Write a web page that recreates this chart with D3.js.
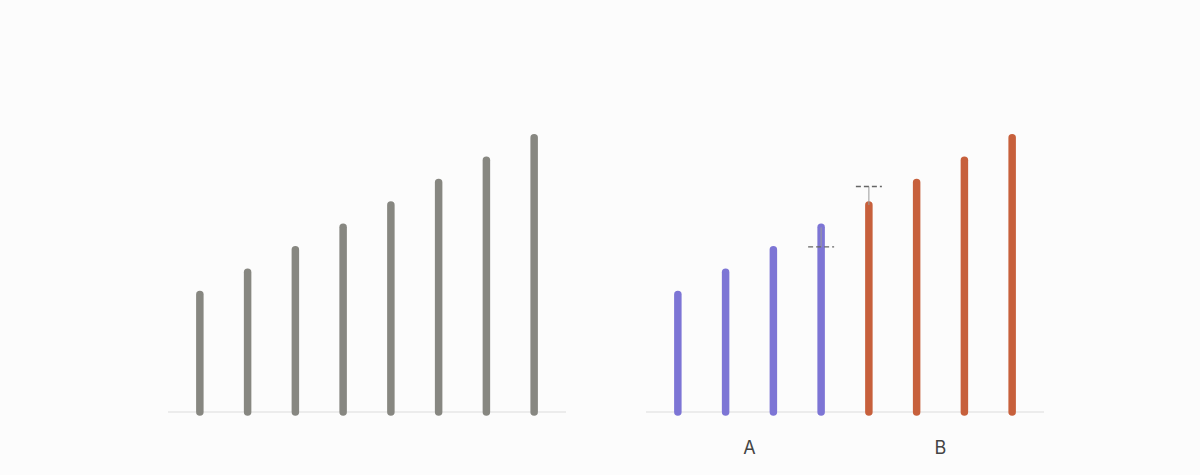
<!DOCTYPE html>
<html>
<head>
<meta charset="utf-8">
<script src="https://cdn.jsdelivr.net/npm/d3@7"></script>
<style>
  body { margin: 0; background: #fcfcfc; }
  svg { display: block; }
</style>
</head>
<body>
<svg id="chart" width="1200" height="475"></svg>
<script>
// values
const items = ["1", "2", "3", "4", "5", "6", "7", "8"];
const values = [21, 25, 29, 33, 37, 41, 45, 49];
const groupOf = ["A", "A", "A", "A", "B", "B", "B", "B"];
const groups = ["A", "B"];
const groupMarks = [29.5, 40.3];   // dashed marker levels
const markAt = ["4", "5"];         // bar each marker sits on

const colors = { A: "#7d75d5", B: "#c7603c" };
const grey = "#878781";

const svg = d3.select("#chart");
const baseY = 412;

const y = d3.scaleLinear()
    .domain([0, 50])
    .range([baseY, baseY - 279.75]);

function panel(x0, colored) {
    const g = svg.append("g").attr("transform", `translate(${x0},0)`);

    const x = d3.scalePoint()
        .domain(items)
        .range([0, 398])
        .padding(0.667);

    // baseline
    g.append("line")
        .attr("x1", 0).attr("x2", 398)
        .attr("y1", baseY).attr("y2", baseY)
        .attr("stroke", "#dcdcdc")
        .attr("stroke-width", 1);

    g.selectAll(".bar")
        .data(values)
        .join("line")
        .attr("class", "bar")
        .attr("x1", (d, i) => x(items[i]))
        .attr("x2", (d, i) => x(items[i]))
        .attr("y1", baseY)
        .attr("y2", d => y(d))
        .attr("stroke", (d, i) => colored ? colors[groupOf[i]] : grey)
        .attr("stroke-width", 7.5)
        .attr("stroke-linecap", "round");

    if (!colored) return;

    groups.forEach((grp, gi) => {
        const cx = x(markAt[gi]);
        const barVal = values[items.indexOf(markAt[gi])];
        // connector from bar top to marker
        g.append("line")
            .attr("x1", cx).attr("x2", cx)
            .attr("y1", y(barVal)).attr("y2", y(groupMarks[gi]))
            .attr("stroke", "#9a9a9a")
            .attr("stroke-width", 1);
        g.append("line")
            .attr("x1", cx - 13).attr("x2", cx + 13)
            .attr("y1", y(groupMarks[gi])).attr("y2", y(groupMarks[gi]))
            .attr("stroke", "#666")
            .attr("stroke-width", 1.3)
            .attr("stroke-dasharray", "5,3");

        const members = items.filter((d, i) => groupOf[i] === grp);
        const mid = (x(members[0]) + x(members[members.length - 1])) / 2;
        g.append("text")
            .attr("x", mid)
            .attr("y", 454)
            .attr("text-anchor", "middle")
            .attr("font-family", "Inter, 'Open Sans', sans-serif")
            .attr("font-size", 18)
            .attr("fill", "#444")
            .text(grp);
    });
}

panel(168, false);
panel(646, true);
</script>
</body>
</html>
